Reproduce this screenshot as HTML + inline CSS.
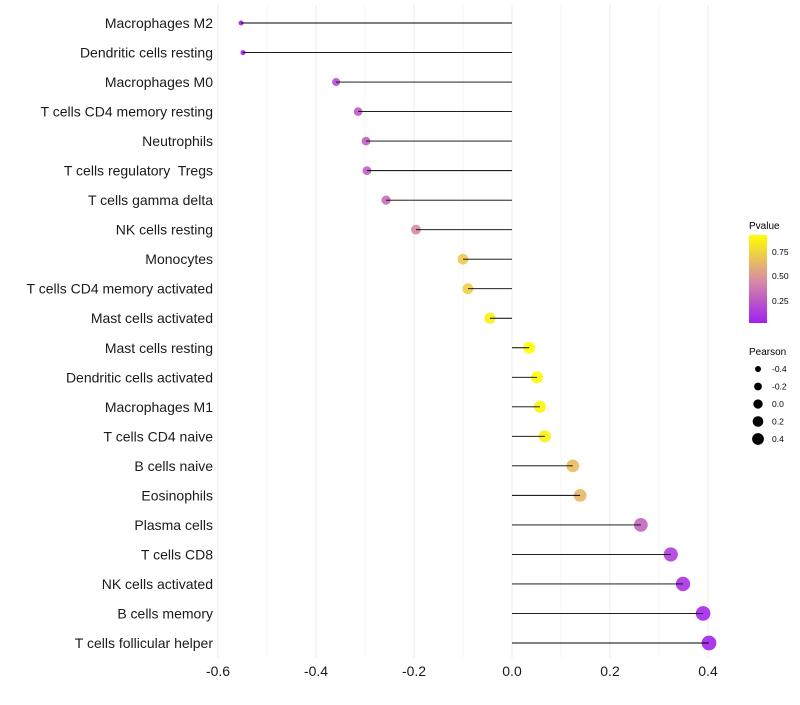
<!DOCTYPE html>
<html><head><meta charset="utf-8"><style>
body{margin:0;background:#fff;}
svg text{font-family:"Liberation Sans",sans-serif;white-space:pre;}
</style></head><body>
<svg id="chart" width="800" height="700" xmlns="http://www.w3.org/2000/svg">
<defs><linearGradient id="pg" x1="0" y1="1" x2="0" y2="0">
<stop offset="0" stop-color="#a020f0"/><stop offset="0.5" stop-color="#d98fa0"/><stop offset="1" stop-color="#ffff00"/></linearGradient></defs>
<g id="grid"></g>
<g id="marks"></g>
<g id="ylabels"></g>
<g id="xlabels"></g>
<g>
<text x="749" y="229" font-size="10" fill="#000">Pvalue</text>
<rect x="749" y="235" width="18" height="88" fill="url(#pg)"/>
<text x="772" y="255" font-size="8.5">0.75</text>
<text x="772" y="279" font-size="8.5">0.50</text>
<text x="772" y="304" font-size="8.5">0.25</text>
</g>
<g id="sizeleg">
<text x="749" y="355" font-size="10" fill="#000">Pearson</text>
</g>
</svg>
<script>
const cats=["Macrophages M2","Dendritic cells resting","Macrophages M0","T cells CD4 memory resting","Neutrophils","T cells regulatory  Tregs","T cells gamma delta","NK cells resting","Monocytes","T cells CD4 memory activated","Mast cells activated","Mast cells resting","Dendritic cells activated","Macrophages M1","T cells CD4 naive","B cells naive","Eosinophils","Plasma cells","T cells CD8","NK cells activated","B cells memory","T cells follicular helper"];
const pearson=[-0.553,-0.549,-0.359,-0.314,-0.298,-0.296,-0.257,-0.196,-0.1,-0.09,-0.045,0.035,0.051,0.057,0.067,0.124,0.139,0.263,0.324,0.349,0.39,0.402];
const pvals=[0.03,0.04,0.2,0.25,0.28,0.28,0.33,0.45,0.7,0.72,0.85,0.93,0.9,0.87,0.85,0.65,0.63,0.3,0.15,0.1,0.06,0.04];
const xticks=[-0.6,-0.4,-0.2,0,0.2,0.4];
const sizeLegend=[-0.4,-0.2,0,0.2,0.4];
const NS="http://www.w3.org/2000/svg";
const x=v=>512+v*490, y=i=>23+i*(620/21);
const rad=v=>Math.sqrt(Math.max(3,34+50*v));
function col(p){const t=(p-0.03)/(0.91-0.03);const c=Math.max(0,Math.min(1,t));
 const a=[160,32,240],m=[217,143,160],b=[255,255,0];let r;
 if(c<0.5){const k=c/0.5;r=a.map((v,i)=>v+(m[i]-v)*k);}else{const k=(c-0.5)/0.5;r=m.map((v,i)=>v+(b[i]-v)*k);}
 return `rgb(${r.map(Math.round).join(',')})`;}
function el(t,a,p){const e=document.createElementNS(NS,t);for(const k in a)e.setAttribute(k,a[k]);p.appendChild(e);return e;}
const grid=document.getElementById('grid');
for(let k=-6;k<=4;k++){const v=k/10;const g=el('line',{x1:x(v),x2:x(v),y1:5,y2:658,stroke:k%2===0?'#ebebeb':'#f4f4f4','stroke-width':k%2===0?1:0.8},grid);

}
const marks=document.getElementById('marks'),yl=document.getElementById('ylabels');
cats.forEach((c,i)=>{
 const pt=el('circle',{cx:x(pearson[i]),cy:y(i),r:rad(pearson[i]),fill:col(pvals[i]),'fill-opacity':0.9},marks);
 
 
 const ln=el('line',{x1:x(0),x2:x(pearson[i]),y1:y(i),y2:y(i),stroke:'#000','stroke-width':0.9},marks);
 
 
 const t=el('text',{x:213,y:y(i)+5,'text-anchor':'end','font-size':14,fill:'#1a1a1a'},yl);t.textContent=c;
 
 
});
const xl=document.getElementById('xlabels');
xticks.forEach(v=>{const t=el('text',{x:x(v),y:676,'text-anchor':'middle','font-size':14,fill:'#1a1a1a'},xl);t.textContent=v===0?'0.0':v.toFixed(1);

});
const sl=document.getElementById('sizeleg');
sizeLegend.forEach((v,i)=>{const yy=369+i*17.5;
 const c=el('circle',{cx:758,cy:yy,r:rad(v)*0.8,fill:'#000'},sl);
 
 
 const t=el('text',{x:772,y:yy+3,'font-size':8.5},sl);t.textContent=v===0?'0.0':v.toFixed(1);
 
 });
</script>
</body></html>
